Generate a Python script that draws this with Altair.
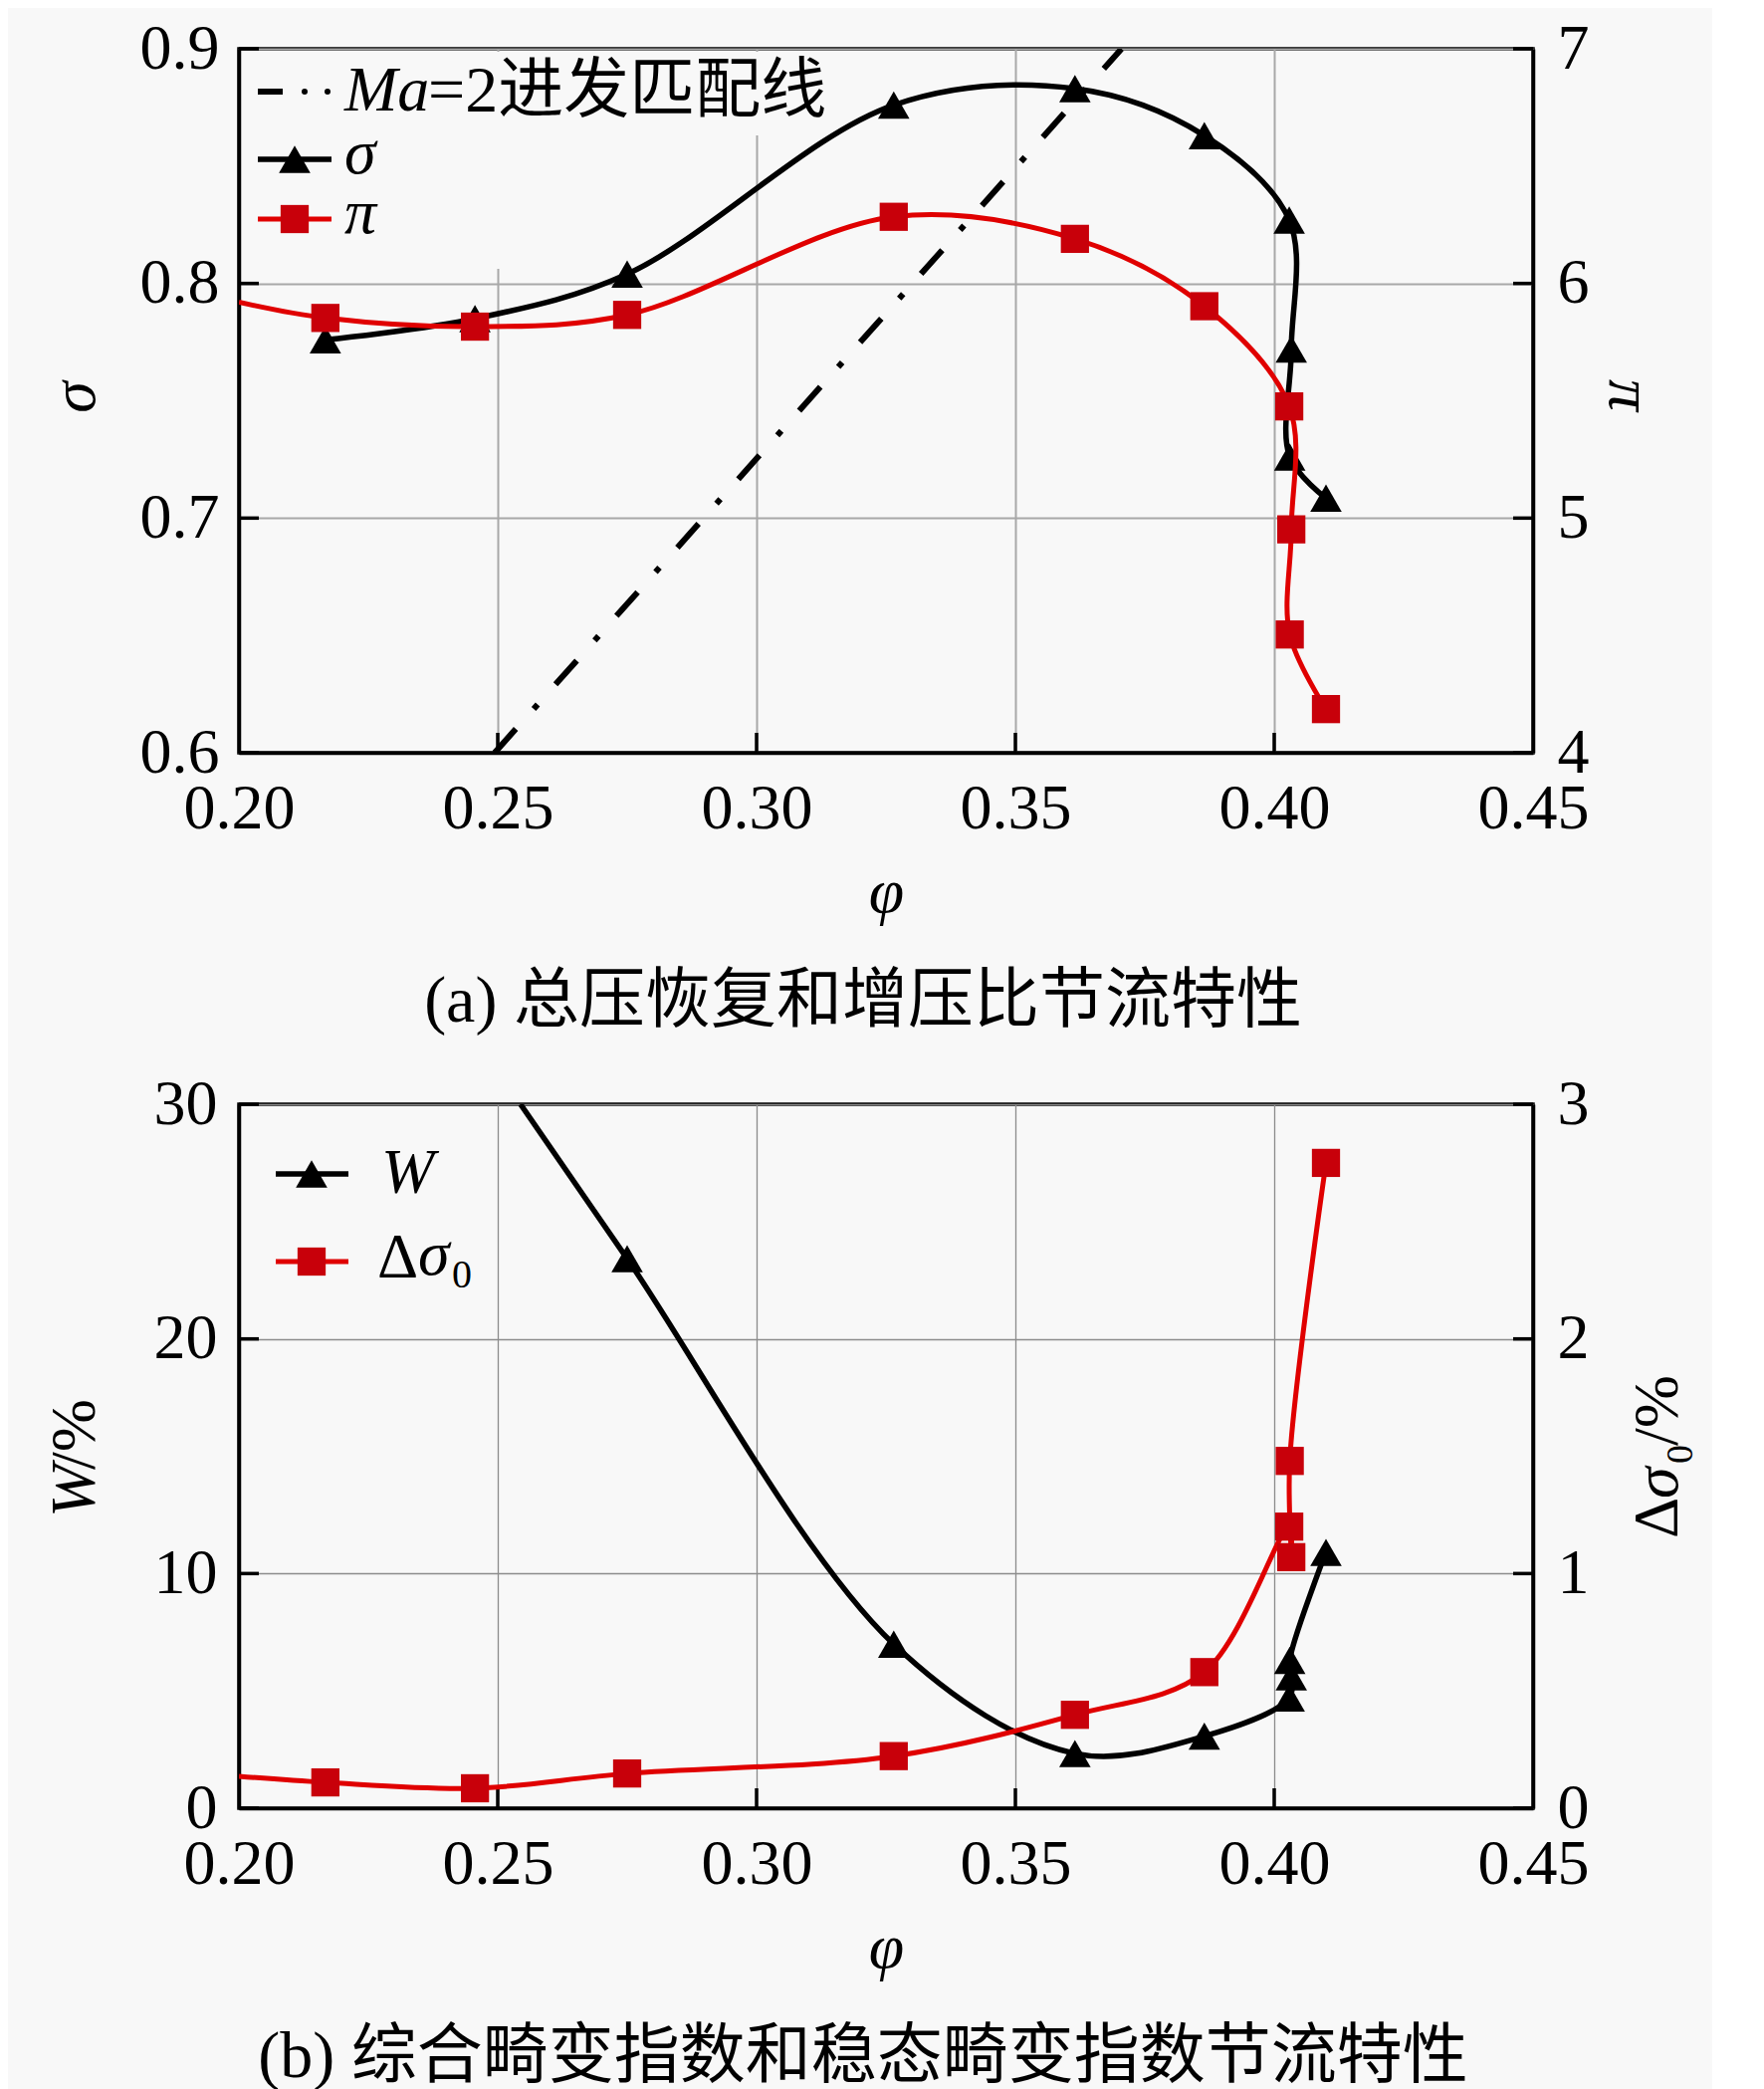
import altair as alt
import pandas as pd

# ---------------- data ----------------
phi = [0.2167, 0.2456, 0.2750, 0.3265, 0.3615, 0.3865, 0.4029, 0.4033, 0.4030, 0.4100]
sigma = [0.776, 0.785, 0.804, 0.876, 0.883, 0.863, 0.827, 0.772, 0.726, 0.7085]
pi_vals = [5.853, 5.816, 5.866, 6.284, 6.190, 5.903, 5.476, 4.952, 4.504, 4.186]
W_phi = [0.2750, 0.3265, 0.3615, 0.3865, 0.4029, 0.4033, 0.4030, 0.4100]
W_vals = [23.42, 6.99, 2.33, 3.07, 4.70, 5.60, 6.30, 10.90]
dsig = [0.110, 0.085, 0.148, 0.222, 0.398, 0.580, 1.200, 1.070, 1.480, 2.750]

# points where curves leave the frame
pi_edge = (0.200, 5.92)
dsig_edge = (0.200, 0.136)
W_edge = (0.2544, 30.0)

# Ma=2 matching line
match_phi = [0.2494, 0.3705]
match_sigma = [0.600, 0.900]

x_ticks = [0.20, 0.25, 0.30, 0.35, 0.40, 0.45]
x_inner = [0.25, 0.30, 0.35, 0.40]
sigma_ticks = [0.6, 0.7, 0.8, 0.9]
pi_ticks = [4, 5, 6, 7]
W_ticks = [0, 10, 20, 30]
dsig_ticks = [0, 1, 2, 3]

caption_a = "(a) 总压恢复和增压比节流特性"
caption_b = "(b) 综合畸变指数和稳态畸变指数节流特性"

# ---------------- styling ----------------
FONT = "Liberation Serif, Noto Sans CJK SC"
BG = "#f8f8f8"
RED_LINE = "#e00000"
RED_SQ = "#c8000a"
W_PX, H_PX = 1300, 707
FS = 64
TRI = 1000
SQ = 800
LW_K = 5.5
LW_R = 5.0

ONE = alt.Data(values=[{"k": 0}])


def series_df(xs, ys, edge=None):
    rows = []
    if edge is not None:
        rows.append({"phi": edge[0], "v": edge[1], "o": 0, "m": False})
    for i, (x, y) in enumerate(zip(xs, ys)):
        rows.append({"phi": x, "v": y, "o": i + 1, "m": True})
    return pd.DataFrame(rows)


def x_axis(grid_color, grid_width):
    return alt.Axis(values=x_ticks, format=".2f", title="φ", titleFont=FONT,
                    titleFontSize=FS, titleFontStyle="italic", titleFontWeight="normal",
                    titleColor="black", titlePadding=20, labelFont=FONT, labelFontSize=FS,
                    labelColor="black", labelPadding=24, labelFlush=False, labelOverlap=False,
                    ticks=False, domainColor="black", domainWidth=3.5, grid=True,
                    gridColor=grid_color, gridWidth=grid_width)


def y_axis(vals, fmt, orient, grid, grid_color, grid_width, pad):
    return alt.Axis(values=vals, format=fmt, orient=orient, title=None, labelFont=FONT,
                    labelFontSize=FS, labelColor="black", labelPadding=pad,
                    labelOverlap=False, ticks=False, domainColor="black", domainWidth=3.5,
                    grid=grid, gridColor=grid_color, gridWidth=grid_width)


def vtext(txt, x, y, size=FS, italic=False, angle=0, align="left"):
    kw = dict(text=txt, font=FONT, fontSize=size, align=align, baseline="middle",
              color="black", fontStyle="italic" if italic else "normal")
    if angle:
        kw["angle"] = angle
    return alt.Chart(ONE).mark_text(**kw).encode(x=alt.value(x), y=alt.value(y))


def vrule(x1, x2, y, color, width):
    return alt.Chart(ONE).mark_rule(color=color, strokeWidth=width).encode(
        x=alt.value(x1), x2=alt.value(x2), y=alt.value(y))


def vpoint(x, y, shape, color, size):
    return alt.Chart(ONE).mark_point(shape=shape, filled=True, color=color, opacity=1,
                                     size=size, strokeWidth=0).encode(
        x=alt.value(x), y=alt.value(y))


def vrect(x1, x2, y1, y2):
    return alt.Chart(ONE).mark_rect(color=BG).encode(
        x=alt.value(x1), x2=alt.value(x2), y=alt.value(y1), y2=alt.value(y2))


def curve(df, xs, ys, xa, ya, color, width):
    return alt.Chart(df).mark_line(interpolate="catmull-rom", clip=True, color=color,
                                   strokeWidth=width).encode(
        x=alt.X("phi:Q", scale=xs, axis=xa), y=alt.Y("v:Q", scale=ys, axis=ya),
        order=alt.Order("o:Q"))


def markers(df, xs, ys, xa, ya, shape, color, size):
    return alt.Chart(df).transform_filter("datum.m").mark_point(
        shape=shape, filled=True, color=color, opacity=1, size=size, strokeWidth=0,
        clip=True).encode(
        x=alt.X("phi:Q", scale=xs, axis=xa), y=alt.Y("v:Q", scale=ys, axis=ya))


def left_ticks(vals, ys, ya):
    return alt.Chart(alt.Data(values=[{"t": v} for v in vals])).mark_rule(
        color="black", strokeWidth=3.5).encode(
        y=alt.Y("t:Q", scale=ys, axis=ya), x=alt.value(0), x2=alt.value(20))


def right_ticks(vals, ys, ya):
    return alt.Chart(alt.Data(values=[{"t": v} for v in vals])).mark_rule(
        color="black", strokeWidth=3.5).encode(
        y=alt.Y("t:Q", scale=ys, axis=ya), x=alt.value(W_PX - 20), x2=alt.value(W_PX))


def bottom_ticks(xs, xa):
    return alt.Chart(alt.Data(values=[{"t": v} for v in x_inner])).mark_rule(
        color="black", strokeWidth=3.5).encode(
        x=alt.X("t:Q", scale=xs, axis=xa), y=alt.value(H_PX - 20), y2=alt.value(H_PX))


xscale = alt.Scale(domain=[0.20, 0.45], nice=False, zero=False)

# ---------------- panel (a) ----------------
xa_a = x_axis("#a8a8a8", 2.0)
s_sig = alt.Scale(domain=[0.6, 0.9], nice=False, zero=False)
s_pi = alt.Scale(domain=[4, 7], nice=False, zero=False)
ya_sig = y_axis(sigma_ticks, ".1f", "left", True, "#a8a8a8", 2.0, 20)
ya_pi = y_axis(pi_ticks, "d", "right", False, "#a8a8a8", 2.0, 24)

df_sig = series_df(phi, sigma)
df_pi = series_df(phi, pi_vals, pi_edge)
df_match = pd.DataFrame({"phi": match_phi, "v": match_sigma, "o": [0, 1]})

match_line = alt.Chart(df_match).mark_line(
    clip=True, color="black", strokeWidth=6, strokeDash=[32, 27, 6, 27]).encode(
    x=alt.X("phi:Q", scale=xscale, axis=xa_a), y=alt.Y("v:Q", scale=s_sig, axis=ya_sig),
    order=alt.Order("o:Q"))

a_left = alt.layer(
    vrect(3, 592, 3, 87),
    vrect(3, 290, 3, 221),
    left_ticks(sigma_ticks, s_sig, ya_sig),
    bottom_ticks(xscale, xa_a),
    match_line,
    curve(df_sig, xscale, s_sig, xa_a, ya_sig, "black", LW_K),
    markers(df_sig, xscale, s_sig, xa_a, ya_sig, "triangle-up", "black", TRI),
    vtext("σ", -164, 350, italic=True, angle=270, align="center"),
)
a_right = alt.layer(
    right_ticks(pi_ticks, s_pi, ya_pi),
    curve(df_pi, xscale, s_pi, xa_a, ya_pi, RED_LINE, LW_R),
    markers(df_pi, xscale, s_pi, xa_a, ya_pi, "square", RED_SQ, SQ),
    vtext("π", W_PX + 96, 348, italic=True, angle=90, align="center"),
    # legend
    vrule(19, 44, 43, "black", 6),
    vpoint(66, 43, "circle", "black", 36),
    vpoint(89, 43, "circle", "black", 36),
    vtext("Ma", 106, 43, italic=True),
    vtext("=2进发匹配线", 190, 43, size=66),
    vrule(19, 93, 111, "black", LW_K),
    vpoint(56, 111, "triangle-up", "black", TRI),
    vtext("σ", 106, 106, italic=True),
    vrule(19, 93, 171, RED_LINE, LW_R),
    vpoint(56, 171, "square", RED_SQ, SQ),
    vtext("π", 106, 166, italic=True),
)
panel_a = alt.layer(a_left, a_right).resolve_scale(y="independent").properties(
    width=W_PX, height=H_PX,
    title=alt.TitleParams(caption_a, orient="bottom", anchor="middle", font=FONT,
                          fontSize=66, fontWeight="normal", color="black", offset=46, dx=-23))

# ---------------- panel (b) ----------------
xa_b = x_axis("#8c8c8c", 1.3)
s_W = alt.Scale(domain=[0, 30], nice=False, zero=False)
s_d = alt.Scale(domain=[0, 3], nice=False, zero=False)
ya_W = y_axis(W_ticks, "d", "left", True, "#8c8c8c", 1.3, 22)
ya_d = y_axis(dsig_ticks, "d", "right", False, "#8c8c8c", 1.3, 24)

df_W = series_df(W_phi, W_vals, W_edge)
df_d = series_df(phi, dsig, dsig_edge)

b_left = alt.layer(
    left_ticks(W_ticks, s_W, ya_W),
    bottom_ticks(xscale, xa_b),
    curve(df_W, xscale, s_W, xa_b, ya_W, "black", LW_K),
    markers(df_W, xscale, s_W, xa_b, ya_W, "triangle-up", "black", TRI),
    vtext("W", -164, 415, italic=True, angle=270),
    vtext("/%", -164, 367, angle=270),
)
b_right = alt.layer(
    right_ticks(dsig_ticks, s_d, ya_d),
    curve(df_d, xscale, s_d, xa_b, ya_d, RED_LINE, LW_R),
    markers(df_d, xscale, s_d, xa_b, ya_d, "square", RED_SQ, SQ),
    vtext("Δ", W_PX + 126, 436, angle=270),
    vtext("σ", W_PX + 126, 396, italic=True, angle=270),
    vtext("0", W_PX + 149, 361, size=38, angle=270),
    vtext("/%", W_PX + 126, 343, angle=270),
    # legend
    vrule(37, 110, 70, "black", LW_K),
    vpoint(73, 70, "triangle-up", "black", TRI),
    vtext("W", 143, 70, italic=True),
    vrule(37, 110, 158, RED_LINE, LW_R),
    vpoint(73, 158, "square", RED_SQ, SQ),
    vtext("Δ", 139, 155),
    vtext("σ", 180, 152, italic=True),
    vtext("0", 214, 172, size=40),
)
panel_b = alt.layer(b_left, b_right).resolve_scale(y="independent").properties(
    width=W_PX, height=H_PX,
    title=alt.TitleParams(caption_b, orient="bottom", anchor="middle", font=FONT,
                          fontSize=66, fontWeight="normal", color="black", offset=46, dx=-23))

chart = alt.vconcat(panel_a, panel_b, spacing=34).properties(
    padding={"left": 34, "top": 7, "right": 10, "bottom": 0},
    background=BG,
).configure_view(stroke="black", strokeWidth=3.5, fill=BG)

chart.save("out.html", embed_options={"renderer": "svg", "actions": False})
